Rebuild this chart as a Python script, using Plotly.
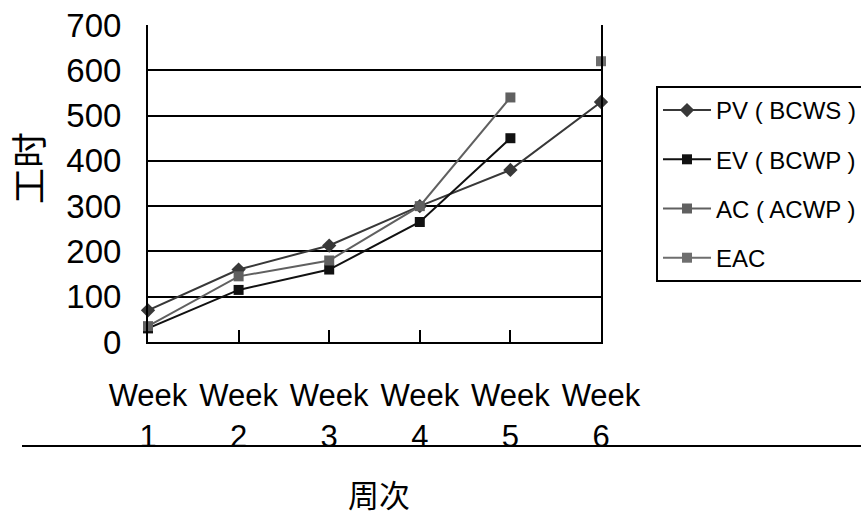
import plotly.graph_objects as go

# Weekly earned-value tracking data (工时)
weeks = [1, 2, 3, 4, 5, 6]
week_labels = ["Week<br>1", "Week<br>2", "Week<br>3", "Week<br>4", "Week<br>5", "Week<br>6"]

pv_values = [70, 160, 213, 300, 380, 530]     # PV(BCWS)
ev_weeks = [1, 2, 3, 4, 5]
ev_values = [30, 115, 160, 265, 450]          # EV(BCWP)
ac_weeks = [1, 2, 3, 4, 5]
ac_values = [35, 145, 180, 300, 540]          # AC(ACWP)
eac_weeks = [6]
eac_values = [620]                            # EAC

y_ticks = [0, 100, 200, 300, 400, 500, 600, 700]

ARIAL = "Liberation Sans, Arial, sans-serif"
CJK = "Noto Sans CJK SC, sans-serif"

W, H = 861, 516
L, R, T, B = 148, 260, 25, 174
plot_w = W - L - R
plot_h = H - T - B

fig = go.Figure()

series = [
    ("PV ( BCWS )", weeks, pv_values, "#383838", "diamond", 11),
    ("EV ( BCWP )", ev_weeks, ev_values, "#111111", "square", 10),
    ("AC ( ACWP )", ac_weeks, ac_values, "#606060", "square", 10),
    ("EAC", eac_weeks, eac_values, "#6e6e6e", "square", 10),
]

for i, (name, xs, ys, color, symbol, size) in enumerate(series):
    fig.add_trace(go.Scatter(
        x=xs, y=ys, name=name,
        mode="lines+markers",
        line=dict(color=color, width=2),
        marker=dict(symbol=symbol, size=size, color=color),
        cliponaxis=False,
        legendgroup=f"g{i}",
    ))

# horizontal rule running across the category labels
line_y = (H - B - 446) / plot_h
fig.add_shape(type="line", xref="paper", yref="paper",
              x0=(22 - L) / plot_w, x1=(W - L) / plot_w, y0=line_y, y1=line_y,
              line=dict(color="black", width=2), layer="above")

# axis titles
fig.add_annotation(text="周次", xref="paper", yref="paper",
                   x=(379 - L) / plot_w, y=(H - B - 493) / plot_h,
                   xanchor="center", yanchor="middle", showarrow=False,
                   font=dict(family=CJK, size=31, color="black"))
fig.add_annotation(text="工时", xref="paper", yref="paper",
                   x=(27 - L) / plot_w, y=(H - B - 168) / plot_h,
                   xanchor="center", yanchor="middle", showarrow=False, textangle=-90,
                   font=dict(family=CJK, size=36, color="black"))

fig.update_layout(
    width=W, height=H,
    margin=dict(l=L, r=R, t=T, b=B, autoexpand=False),
    paper_bgcolor="white", plot_bgcolor="white",
    showlegend=True,
    legend=dict(
        x=(656 - L) / plot_w, y=(H - B - 86) / plot_h,
        xanchor="left", yanchor="top",
        bordercolor="black", borderwidth=2, bgcolor="white",
        font=dict(family=ARIAL, size=24, color="black"),
        traceorder="grouped", tracegroupgap=15,
        itemwidth=48,
    ),
    xaxis=dict(
        range=[1, 6], tickmode="array", tickvals=weeks, ticktext=week_labels,
        showgrid=False, zeroline=False,
        showline=True, linecolor="black", linewidth=2,
        ticks="inside", ticklen=12, tickwidth=2, tickcolor="black",
        tickfont=dict(family=ARIAL, size=31, color="black"),
        ticklabelstandoff=25,
    ),
    yaxis=dict(
        range=[0, 700], tickmode="array", tickvals=y_ticks,
        showgrid=True, gridcolor="black", gridwidth=2,
        zeroline=False,
        showline=True, linecolor="black", linewidth=2, mirror=True,
        ticks="", tickfont=dict(family=ARIAL, size=33, color="black"),
        ticklabelstandoff=18,
    ),
)

fig.write_html("out.html")
